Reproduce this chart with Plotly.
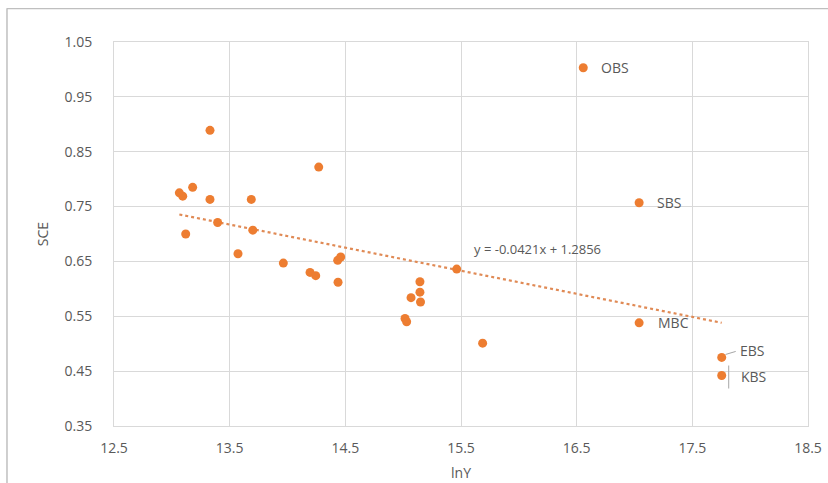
import plotly.graph_objects as go

# ---- data ----
lnY = [13.33, 14.27, 13.065, 13.094, 13.18, 13.33, 13.687, 13.396, 13.70, 13.12,
       13.572, 13.964, 14.195, 14.244, 14.437, 14.434, 14.46,
       15.145, 15.145, 15.068, 15.15, 15.016, 15.03, 15.463, 15.687,
       17.04, 17.754, 17.754, 16.557, 17.04]
SCE = [0.889, 0.822, 0.775, 0.769, 0.785, 0.763, 0.763, 0.721, 0.707, 0.700,
       0.664, 0.647, 0.630, 0.624, 0.612, 0.652, 0.658,
       0.613, 0.594, 0.584, 0.576, 0.546, 0.540, 0.636, 0.501,
       0.538, 0.475, 0.442, 1.003, 0.757]
labels = [""] * 25 + ["MBC", "EBS", "KBS", "OBS", "SBS"]

slope = -0.0421
intercept = 1.2856
equation_text = "y = -0.0421x + 1.2856"

x_ticks = [12.5, 13.5, 14.5, 15.5, 16.5, 17.5, 18.5]
y_ticks = [0.35, 0.45, 0.55, 0.65, 0.75, 0.85, 0.95, 1.05]

ORANGE = "#ED7D31"
TEXT = "#595959"
GRID = "#D9D9D9"
FONT = "Open Sans"

fig = go.Figure()

# trendline over data range
xmin, xmax = min(lnY), max(lnY)
fig.add_trace(go.Scatter(
    x=[xmin, xmax], y=[slope * xmin + intercept, slope * xmax + intercept],
    mode="lines", line=dict(color="#E08A55", width=2.2, dash="dot"),
    hoverinfo="skip", showlegend=False))

fig.add_trace(go.Scatter(
    x=lnY, y=SCE, mode="markers",
    marker=dict(color=ORANGE, size=9, line=dict(width=0)),
    showlegend=False))

# point labels
offsets = {"OBS": (16, 0), "SBS": (16, 0), "MBC": (17, 0), "EBS": (16, 7), "KBS": (17, -1)}
for xv, yv, lab in zip(lnY, SCE, labels):
    if not lab:
        continue
    dx, dy = offsets[lab]
    fig.add_annotation(x=xv, y=yv, text=lab, showarrow=False, xanchor="left",
                       yanchor="middle", xshift=dx, yshift=dy,
                       font=dict(family=FONT, size=14, color=TEXT))

# leader lines for EBS and KBS
i_ebs = labels.index("EBS")
i_kbs = labels.index("KBS")
fig.add_shape(type="line", xref="x", yref="y", xsizemode="pixel", ysizemode="pixel",
              xanchor=lnY[i_ebs], yanchor=SCE[i_ebs], x0=4, x1=14, y0=3, y1=6,
              line=dict(color="#A6A6A6", width=1))
fig.add_shape(type="line", xref="x", yref="y", xsizemode="pixel", ysizemode="pixel",
              xanchor=lnY[i_kbs], yanchor=SCE[i_kbs], x0=7, x1=7, y0=10, y1=-13,
              line=dict(color="#A6A6A6", width=1))

# equation
fig.add_annotation(x=15.592, y=0.672, text=equation_text, showarrow=False,
                   xanchor="left", yanchor="middle",
                   font=dict(family=FONT, size=13, color=TEXT))

# outer chart border (top and left edges visible in the frame)
fig.add_shape(type="rect", xref="paper", yref="paper",
              x0=-0.1542, x1=1.0288, y0=1.0855, y1=1.0885,
              fillcolor="#BFBFBF", line=dict(width=0))
fig.add_shape(type="line", xref="paper", yref="paper",
              x0=-0.1542, x1=-0.1542, y0=-0.2, y1=1.088,
              line=dict(color="#BFBFBF", width=1.5))

fig.update_xaxes(range=[12.5, 18.5], tickvals=x_ticks,
                 ticktext=[f"{v:.1f}" for v in x_ticks],
                 showgrid=True, gridcolor=GRID, gridwidth=1,
                 showline=True, linecolor=GRID, mirror=True, zeroline=False,
                 ticks="", ticklabelstandoff=9,
                 tickfont=dict(family=FONT, size=14, color=TEXT),
                 title=dict(text="lnY", font=dict(family=FONT, size=14, color=TEXT), standoff=12))
fig.update_yaxes(range=[0.35, 1.05], tickvals=y_ticks,
                 ticktext=[f"{v:.2f}" for v in y_ticks],
                 showgrid=True, gridcolor=GRID, gridwidth=1,
                 showline=True, linecolor=GRID, mirror=True, zeroline=False,
                 ticks="", ticklabelstandoff=18,
                 tickfont=dict(family=FONT, size=14, color=TEXT),
                 title=dict(text="SCE", font=dict(family=FONT, size=14, color=TEXT), standoff=12))

fig.update_layout(width=828, height=483,
                  margin=dict(l=114, r=20, t=42, b=57, autoexpand=False),
                  paper_bgcolor="white", plot_bgcolor="white",
                  font=dict(family=FONT, color=TEXT))

fig.write_html("out.html", config={"displayModeBar": False},
               post_script="document.body.style.margin='0';document.body.style.overflow='hidden';")
